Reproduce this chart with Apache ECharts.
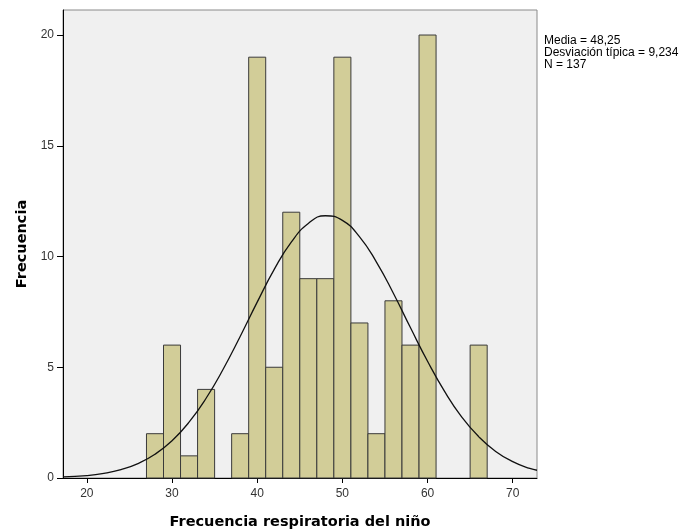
<!DOCTYPE html>
<html>
<head>
<meta charset="utf-8">
<script src="https://cdn.jsdelivr.net/npm/echarts@6/dist/echarts.min.js"></script>
<style>
  html, body { margin: 0; padding: 0; background: #fff; }
  #main { width: 683px; height: 531px; }
</style>
</head>
<body>
<div id="main"></div>
<script>
// histogram bins (width 2) and counts
var binStart = [27, 29, 31, 33, 37, 39, 41, 43, 45, 47, 49, 51, 53, 55, 57, 59, 65];
var binEnd   = [29, 31, 33, 35, 39, 41, 43, 45, 47, 49, 51, 53, 55, 57, 59, 61, 67];
var counts   = [2, 6, 1, 4, 2, 19, 5, 12, 9, 9, 19, 7, 2, 8, 6, 20, 6];

// normal curve
var curveX = [17.2, 20, 22, 24, 26, 28, 30, 32, 34, 36, 38, 40, 42, 44, 46, 48, 50, 52, 54, 56, 58, 60, 62, 64, 66, 68, 70, 72, 72.85];
var curveY = [0.05, 0.11, 0.21, 0.38, 0.65, 1.07, 1.68, 2.52, 3.6, 4.91, 6.39, 7.94, 9.42, 10.65, 11.49, 11.84, 11.63, 10.9, 9.75, 8.33, 6.78, 5.27, 3.91, 2.76, 1.87, 1.2, 0.74, 0.43, 0.35];

var xTicks = [20, 30, 40, 50, 60, 70];
var yTicks = [0, 5, 10, 15, 20];

var statLines = ['Media = 48,25', 'Desviación típica = 9,234', 'N = 137'];

var myChart = echarts.init(document.getElementById('main'));

var barData = [];
for (var i = 0; i < counts.length; i++) {
    barData.push([binStart[i], binEnd[i], counts[i]]);
}
var lineData = [];
for (var j = 0; j < curveX.length; j++) {
    lineData.push([curveX[j], curveY[j]]);
}

var option = {
    animation: false,
    backgroundColor: '#ffffff',
    textStyle: { fontFamily: 'Liberation Sans, Arial, sans-serif' },
    grid: {
        left: 63, right: 146, top: 10, bottom: 53,
        outerBoundsMode: 'none',
        containLabel: false,
        show: true,
        backgroundColor: '#f0f0f0',
        borderColor: '#8a8a8a',
        borderWidth: 1
    },
    graphic: [{
        type: 'text',
        left: 544,
        top: 35,
        style: {
            text: statLines.join('\n'),
            font: '12px "Liberation Sans", Arial, sans-serif',
            fill: '#000',
            lineHeight: 12
        }
    }],
    xAxis: {
        type: 'value',
        min: 17.2,
        max: 72.85,
        name: 'Frecuencia respiratoria del niño',
        nameLocation: 'middle',
        nameGap: 37,
        nameTextStyle: { fontSize: 14.5, fontWeight: 'bold', color: '#000', fontFamily: 'DejaVu Sans' },
        axisLine: { onZero: false, lineStyle: { color: '#000', width: 1 } },
        axisTick: { show: true, length: 5, lineStyle: { color: '#000' }, customValues: xTicks },
        axisLabel: { color: '#333', fontSize: 12, margin: 10, customValues: xTicks },
        splitLine: { show: false }
    },
    yAxis: {
        type: 'value',
        min: 0,
        max: 21.13,
        name: 'Frecuencia',
        nameLocation: 'middle',
        nameGap: 33,
        nameTextStyle: { fontSize: 14.5, fontWeight: 'bold', color: '#000', fontFamily: 'DejaVu Sans' },
        axisLine: { show: true, lineStyle: { color: '#000', width: 1 } },
        axisTick: { show: true, length: 6, lineStyle: { color: '#000' }, customValues: yTicks },
        axisLabel: { color: '#333', fontSize: 12, margin: 9, customValues: yTicks },
        splitLine: { show: false }
    },
    series: [
        {
            type: 'custom',
            data: barData,
            encode: { x: [0, 1], y: 2 },
            renderItem: function (params, api) {
                var p0 = api.coord([api.value(0), api.value(2)]);
                var p1 = api.coord([api.value(1), 0]);
                return {
                    type: 'rect',
                    shape: { x: p0[0], y: p0[1], width: p1[0] - p0[0], height: p1[1] - p0[1] },
                    style: { fill: '#d2cd98', stroke: '#3a3a3a', lineWidth: 1 }
                };
            },
            z: 2
        },
        {
            type: 'line',
            data: lineData,
            smooth: true,
            showSymbol: false,
            lineStyle: { color: '#111', width: 1.3 },
            z: 3
        }
    ]
};

myChart.setOption(option);
</script>
</body>
</html>
